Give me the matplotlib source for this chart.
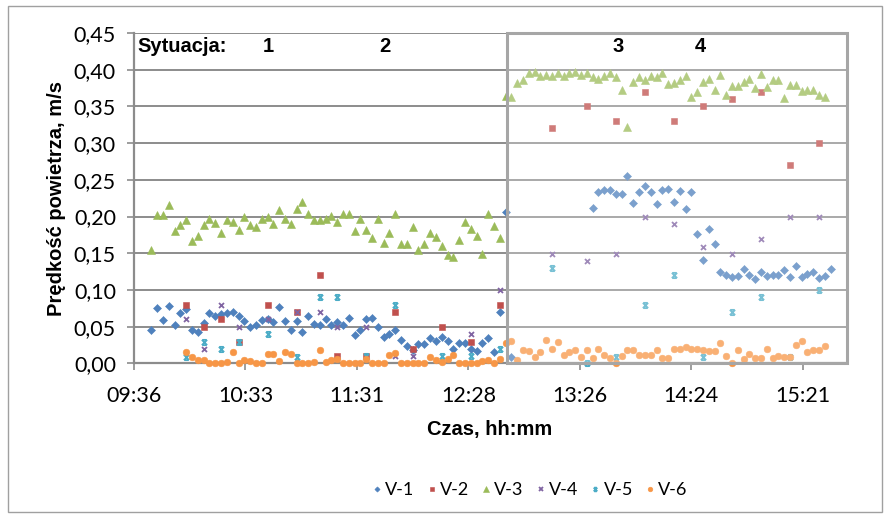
import matplotlib
matplotlib.use('Agg')
import matplotlib.pyplot as plt
from matplotlib.patches import Rectangle
from matplotlib.path import Path
import numpy as np

# Czas pomiaru (co 3 min), wspolny dla serii gestych V-1, V-3, V-6
czas = [
    '09:45', '09:48', '09:51', '09:54', '09:57', '10:00', '10:03', '10:06', '10:09', '10:12',
    '10:15', '10:18', '10:21', '10:24', '10:27', '10:30', '10:33', '10:36', '10:39', '10:42',
    '10:45', '10:48', '10:51', '10:54', '10:57', '11:00', '11:03', '11:06', '11:09', '11:12',
    '11:15', '11:18', '11:21', '11:24', '11:27', '11:30', '11:33', '11:36', '11:39', '11:42',
    '11:45', '11:48', '11:51', '11:54', '11:57', '12:00', '12:03', '12:06', '12:09', '12:12',
    '12:15', '12:18', '12:21', '12:24', '12:27', '12:30', '12:33', '12:36', '12:39', '12:42',
    '12:45', '12:48', '12:51', '12:54', '12:57', '13:00', '13:03', '13:06', '13:09', '13:12',
    '13:15', '13:18', '13:21', '13:24', '13:27', '13:30', '13:33', '13:36', '13:39', '13:42',
    '13:45', '13:48', '13:51', '13:54', '13:57', '14:00', '14:03', '14:06', '14:09', '14:12',
    '14:15', '14:18', '14:21', '14:24', '14:27', '14:30', '14:33', '14:36', '14:39', '14:42',
    '14:45', '14:48', '14:51', '14:54', '14:57', '15:00', '15:03', '15:06', '15:09', '15:12',
    '15:15', '15:18', '15:21', '15:24', '15:27', '15:30', '15:33', '15:36']

v1 = [0.045, 0.075, 0.059, 0.078, 0.052, 0.069, 0.074, 0.046, 0.042, 0.055,
      0.068, 0.065, 0.067, 0.068, 0.070, 0.065, 0.057, 0.050, 0.052, 0.059,
      0.060, 0.056, 0.077, 0.057, 0.046, 0.057, 0.043, 0.065, 0.054, 0.052,
      0.060, 0.052, 0.056, 0.052, 0.062, 0.038, 0.046, 0.060, 0.062, 0.050,
      0.036, 0.040, 0.045, 0.032, 0.023, 0.018, 0.026, 0.026, 0.034, 0.031,
      0.036, 0.030, 0.020, 0.027, 0.027, 0.020, 0.017, 0.027, 0.035, 0.015,
      0.070, 0.206, 0.008, None, None, None, None, None, None, None,
      None, None, None, None, None, None, 0.212, 0.234, 0.236, 0.236,
      0.231, 0.231, 0.255, 0.219, 0.234, 0.242, 0.234, 0.217, 0.236, 0.238,
      0.220, 0.235, 0.210, 0.233, 0.176, 0.141, 0.183, 0.162, 0.125, 0.120,
      0.117, 0.119, 0.129, 0.120, 0.115, 0.125, 0.119, 0.120, 0.120, 0.127,
      0.117, 0.132, 0.117, 0.122, 0.125, 0.116, 0.119, 0.129]

v3 = [0.154, 0.202, 0.202, 0.216, 0.180, 0.189, 0.195, 0.166, 0.174, 0.189,
      0.196, 0.191, 0.178, 0.195, 0.192, 0.181, 0.200, 0.188, 0.186, 0.197,
      0.200, 0.190, 0.209, 0.197, 0.190, 0.210, 0.220, 0.204, 0.195, 0.195,
      0.197, 0.201, 0.193, 0.204, 0.204, 0.180, 0.197, 0.182, 0.171, 0.196,
      0.164, 0.177, 0.203, 0.163, 0.162, 0.186, 0.154, 0.162, 0.177, 0.172,
      0.160, 0.148, 0.145, 0.168, 0.193, 0.183, 0.173, 0.149, 0.204, 0.187,
      0.171, 0.364, 0.363, 0.382, 0.386, 0.396, 0.397, 0.392, 0.393, 0.392,
      0.395, 0.392, 0.395, 0.397, 0.393, 0.395, 0.390, 0.387, 0.392, 0.396,
      0.390, 0.373, 0.322, 0.383, 0.390, 0.386, 0.392, 0.390, 0.395, 0.381,
      0.382, 0.386, 0.391, 0.363, 0.369, 0.383, 0.387, 0.372, 0.393, 0.365,
      0.378, 0.378, 0.383, 0.388, 0.375, 0.394, 0.377, 0.386, 0.386, 0.361,
      0.379, 0.379, 0.371, 0.373, 0.373, 0.365, 0.363, None]

v6 = [None, None, None, None, None, None, 0.015, 0.009, 0.005, 0.005,
      0.0, 0.0, 0.0, 0.002, 0.015, 0.0, 0.005, 0.003, 0.0, 0.001,
      0.012, 0.012, 0.003, 0.015, 0.012, 0.0, 0.001, 0.001, 0.002, 0.018,
      0.002, 0.005, 0.006, 0.0, 0.0, 0.001, 0.0, 0.006, 0.0, 0.0,
      0.001, 0.011, 0.014, 0.0, 0.0, 0.0, 0.0, 0.0, 0.008, 0.005,
      0.002, 0.006, 0.011, 0.0, 0.0, 0.0, 0.0, 0.003, 0.005, 0.0,
      0.006, 0.027, 0.030, 0.005, 0.018, 0.017, 0.009, 0.015, 0.032, 0.020,
      0.029, 0.011, 0.016, 0.018, 0.008, 0.018, 0.007, 0.020, 0.011, 0.007,
      0.001, 0.010, 0.018, 0.018, 0.011, 0.011, 0.011, 0.018, 0.007, 0.007,
      0.019, 0.019, 0.022, 0.019, 0.019, 0.018, 0.017, 0.017, 0.027, 0.010,
      0.0, 0.018, 0.006, 0.013, 0.007, 0.007, 0.020, 0.007, 0.010, 0.009,
      0.009, 0.025, 0.030, 0.016, 0.018, 0.018, 0.024, None]

# Serie rzadkie V-2, V-4, V-5
czas_rzadki = ['10:03', '10:12', '10:21', '10:30', '10:45', '11:00', '11:12', '11:21',
               '11:36', '11:51', '12:00', '12:15', '12:30', '12:45', '13:12', '13:30',
               '13:45', '14:00', '14:15', '14:30', '14:45', '15:00', '15:15', '15:30']
v2 = [0.080, 0.050, 0.060, 0.029, 0.080, 0.070, 0.120, 0.010, 0.010, 0.070, 0.019, 0.050,
      0.029, 0.080, 0.321, 0.350, 0.330, 0.370, 0.330, 0.350, 0.360, 0.370, 0.270, 0.300]
v4 = [0.060, 0.019, 0.080, 0.050, 0.061, 0.070, 0.070, 0.050, 0.050, 0.010, 0.010, None,
      0.040, 0.100, 0.149, 0.140, 0.149, 0.200, 0.190, 0.159, 0.149, 0.169, 0.200, 0.200]
v5 = [0.009, 0.029, 0.019, 0.029, 0.040, 0.009, 0.090, 0.090, 0.010, 0.080, None, 0.010,
      0.010, 0.019, 0.130, 0.0, 0.009, 0.080, 0.120, 0.009, 0.070, 0.090, 0.009, 0.100]

etykiety_x = ['09:36', '10:33', '11:31', '12:28', '13:26', '14:24', '15:21']
etykiety_y = ['0,00', '0,05', '0,10', '0,15', '0,20', '0,25', '0,30', '0,35', '0,40', '0,45']
sytuacje = ['1', '2', '3', '4']


def na_dzien(s):
    h, m = s.split(':')
    return (int(h) * 60 + int(m)) / 1440.0


x_gesty = np.array([na_dzien(t) for t in czas])
x_rzadki = np.array([na_dzien(t) for t in czas_rzadki])

# marker "gwiazdka" z Excela (klepsydra)
klepsydra = Path([(-1, -1), (1, 1), (-1, 1), (1, -1), (-0.7, 1), (0.7, 1), (-0.7, -1), (0.7, -1)],
                 [Path.MOVETO, Path.LINETO, Path.MOVETO, Path.LINETO,
                  Path.MOVETO, Path.LINETO, Path.MOVETO, Path.LINETO])

fig = plt.figure(figsize=(8.9, 5.18), dpi=100)
ax = fig.add_axes([134 / 890, 1 - 363.3 / 518, 712 / 890, 330.3 / 518])

serie = [
    ('V-1', x_gesty, v1, 'D', 3.8, '#4F81BD'),
    ('V-2', x_rzadki, v2, 's', 4.4, '#C0504D'),
    ('V-3', x_gesty, v3, '^', 5.2, '#9BBB59'),
    ('V-4', x_rzadki, v4, 'x', 3.6, '#8064A2'),
    ('V-5', x_rzadki, v5, klepsydra, 3.8, '#4BACC6'),
    ('V-6', x_gesty, v6, 'o', 4.8, '#F79646'),
]
for nazwa, xs, ys, mk, ms, kol in serie:
    ys = np.array(ys, dtype=float)
    if mk in ('x',) or isinstance(mk, Path):
        ax.plot(xs, ys, linestyle='none', marker=mk, ms=ms, mew=1.3, color=kol,
                label=nazwa, clip_on=False, zorder=3)
    else:
        ax.plot(xs, ys, linestyle='none', marker=mk, ms=ms, mew=0.4, color=kol,
                mec=kol, label=nazwa, clip_on=False, zorder=3)

ax.set_xlim(0.40, 0.6555)
ax.set_ylim(0, 0.45)
ax.set_xticks(np.arange(0.40, 0.641, 0.04))
ax.set_xticklabels(etykiety_x)
ax.set_yticks(np.arange(0, 0.451, 0.05))
ax.set_yticklabels(etykiety_y)

siatka = '#8c8c8c'
ax.grid(axis='y', color=siatka, lw=1.4, zorder=1)
ax.set_axisbelow(True)
for s in ['top', 'right']:
    ax.spines[s].set_visible(False)
for s in ['left', 'bottom']:
    ax.spines[s].set_color(siatka)
    ax.spines[s].set_linewidth(1.6)
ax.tick_params(axis='both', direction='out', length=5, width=1.2, color=siatka,
               labelsize=15.5, labelcolor='#000000')
ax.tick_params(axis='x', pad=11)
ax.tick_params(axis='y', pad=8)
for lab in ax.get_xticklabels() + ax.get_yticklabels():
    lab.set_fontfamily('Lato')

# ramka sytuacji 3-4
ramka = Rectangle((0.534, 0), 0.656 - 0.534, 0.45, transform=ax.transData,
                  facecolor=(1, 1, 1, 0.25), edgecolor='#a6a6a6', lw=2.2,
                  clip_on=False, zorder=5)
ax.add_patch(ramka)

fb = dict(fontfamily='Liberation Sans', fontweight='bold', fontsize=14.5, va='center')
fig.text(137 / 890, 1 - 47 / 518, 'Sytuacja:', ha='left', **fb)
for txt, px in zip(sytuacje, [268, 385, 618, 700]):
    fig.text(px / 890, 1 - 47 / 518, txt, ha='center', **fb)

fig.text(57 / 890, 1 - 198 / 518, 'Prędkość powietrza, m/s', rotation=90, ha='center',
         fontfamily='Liberation Sans', fontweight='bold', fontsize=14.5, va='center')
fig.text(490 / 890, 1 - 429 / 518, 'Czas, hh:mm', ha='center',
         fontfamily='Liberation Sans', fontweight='bold', fontsize=14.5, va='center')

leg = fig.legend(loc='center', bbox_to_anchor=(530 / 890, 1 - 490 / 518), ncol=6,
                 frameon=False, handletextpad=0.2, columnspacing=0.7, handlelength=0.5,
                 markerscale=0.7, prop={'family': 'Lato', 'size': 13})

# ramka wykresu
fig.patches.append(Rectangle((8 / 890, 6 / 518), 874 / 890, 506 / 518, transform=fig.transFigure,
                             fill=False, edgecolor='#a0a0a0', lw=1.0))

fig.savefig('out.png', dpi=100)
